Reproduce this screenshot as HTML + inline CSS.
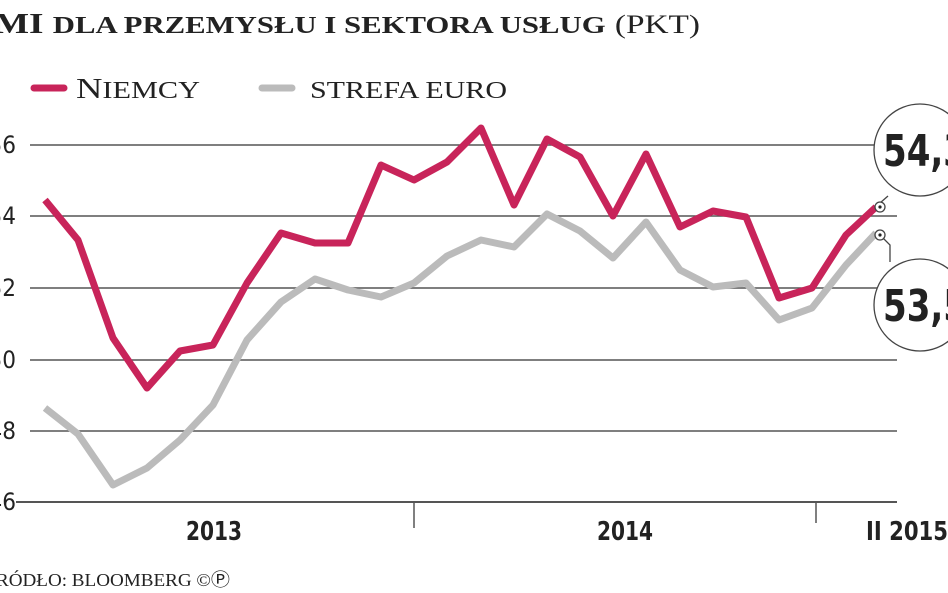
<!DOCTYPE html>
<html><head><meta charset="utf-8"><style>
body{margin:0;width:948px;height:593px;overflow:hidden;background:#fff}
svg{display:block}
.serif{font-family:"Liberation Serif","DejaVu Serif",serif;font-weight:bold;fill:#222}
.cond{font-family:"DejaVu Sans Condensed","DejaVu Sans",sans-serif;fill:#222}
</style></head><body>
<svg width="948" height="593" viewBox="0 0 948 593">
<text x="-6" y="33" class="serif" font-size="29" textLength="706" lengthAdjust="spacingAndGlyphs">MI <tspan font-size="24">DLA PRZEMYSŁU I SEKTORA USŁUG</tspan> <tspan font-weight="normal" font-size="26">(PKT)</tspan></text>
<line x1="34" y1="88" x2="64" y2="88" stroke="#c8245a" stroke-width="7" stroke-linecap="round"/>
<text x="76" y="98" font-family="Liberation Serif,serif" font-size="29" fill="#222" textLength="124" lengthAdjust="spacingAndGlyphs">N<tspan font-size="24">IEMCY</tspan></text>
<line x1="262" y1="88" x2="292" y2="88" stroke="#bbb" stroke-width="7" stroke-linecap="round"/>
<text x="310" y="98" font-family="Liberation Serif,serif" font-size="24" fill="#222" textLength="197" lengthAdjust="spacingAndGlyphs">STREFA EURO</text>
<g stroke="#555" stroke-width="1.5">
<line x1="30" y1="145" x2="897" y2="145"/>
<line x1="30" y1="216" x2="897" y2="216"/>
<line x1="30" y1="288" x2="897" y2="288"/>
<line x1="30" y1="360" x2="897" y2="360"/>
<line x1="30" y1="431" x2="897" y2="431"/>
<line x1="16" y1="502" x2="897" y2="502" stroke-width="2"/>
<line x1="414" y1="502" x2="414" y2="528"/>
<line x1="816" y1="502" x2="816" y2="523"/>
</g>
<g class="cond" font-size="24" text-anchor="end">
<text x="16" y="153">56</text><text x="16" y="224">54</text><text x="16" y="296">52</text>
<text x="16" y="368">50</text><text x="16" y="439">48</text><text x="16" y="510">46</text>
</g>
<g class="cond" font-size="26" font-weight="bold" text-anchor="middle">
<text x="214" y="540" textLength="56" lengthAdjust="spacingAndGlyphs">2013</text>
<text x="625" y="540" textLength="56" lengthAdjust="spacingAndGlyphs">2014</text>
<text x="907" y="540" textLength="82" lengthAdjust="spacingAndGlyphs">II 2015</text>
</g>
<text x="-4" y="586" font-family="Liberation Serif,serif" font-size="18" fill="#222" textLength="234" lengthAdjust="spacingAndGlyphs">RÓDŁO: BLOOMBERG ©Ⓟ</text>
<polyline fill="none" stroke="#bbb" stroke-width="7" stroke-linejoin="round" points="45,408 78,434 113,485 147,468 180,440 213,405 247,340 281,302 315,279 348,290 381,297 414,283 447,256 481,240 514,247 547,214 580,231 613,258 646,222 680,270 713,287 746,283 779,320 812,308 846,265 876,233"/>
<polyline fill="none" stroke="#c8245a" stroke-width="7" stroke-linejoin="round" points="45,200 78,240 113,338 147,388 180,351 213,345 247,283 281,233 315,243 348,243 381,165 414,180 447,162 481,128 514,205 547,139 580,157 613,216 646,154 680,227 713,211 746,217 779,298 812,288 846,235 876,207"/>
<g fill="#fff" stroke="#444" stroke-width="1.3">
<polyline fill="none" points="880,203 888,196"/>
<polyline fill="none" points="880,235 890,245 890,262"/>
<circle cx="880" cy="207" r="5"/><circle cx="880" cy="235" r="5"/>
<circle cx="920" cy="150" r="46"/><circle cx="920" cy="305" r="46"/>
</g>
<circle cx="880" cy="207" r="1.6" fill="#222"/><circle cx="880" cy="235" r="1.6" fill="#222"/>
<g class="cond" font-size="44" font-weight="bold">
<text x="883" y="166" textLength="84" lengthAdjust="spacingAndGlyphs">54,3</text>
<text x="883" y="321" textLength="84" lengthAdjust="spacingAndGlyphs">53,5</text>
</g>
</svg>
</body></html>
